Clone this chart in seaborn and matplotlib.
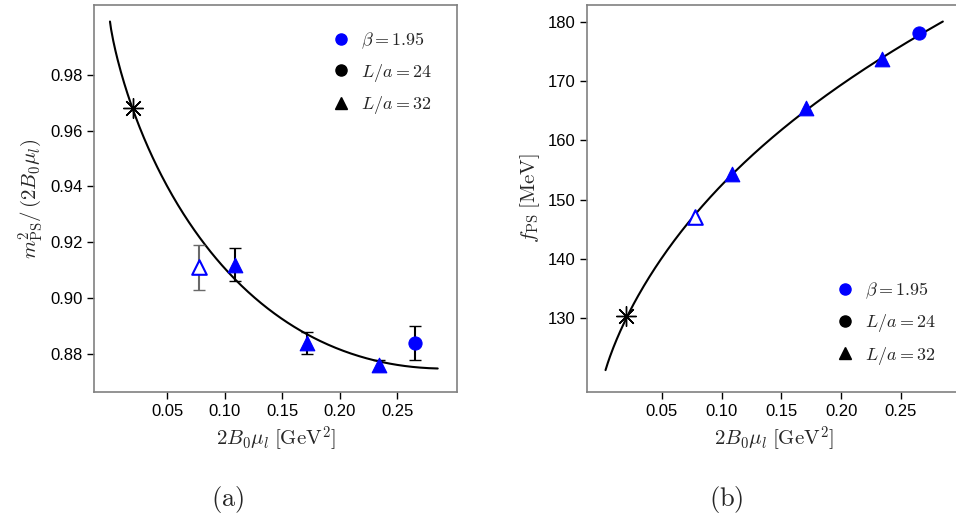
import numpy as np
import matplotlib
matplotlib.use("Agg")
import matplotlib.pyplot as plt
import seaborn as sns
from matplotlib.lines import Line2D

sns.set_style("white")
plt.rcParams['font.family'] = ['Liberation Sans', 'DejaVu Sans']
plt.rcParams['mathtext.fontset'] = 'cm'

# panel (a) data
a_x_l32 = [0.109, 0.171, 0.234]
a_y_l32 = [0.912, 0.884, 0.876]
a_e_l32 = [0.006, 0.004, 0.002]
a_x_open = [0.077]; a_y_open = [0.911]; a_e_open = [0.008]
a_x_l24 = [0.265]; a_y_l24 = [0.884]; a_e_l24 = [0.006]
a_x_phys = [0.020]; a_y_phys = [0.968]
a_curve_x = [0.0, 0.02, 0.05, 0.10, 0.15, 0.20, 0.25, 0.285]
a_curve_y = [0.999, 0.968, 0.939, 0.911, 0.893, 0.881, 0.876, 0.875]

# panel (b) data
b_x_l32 = [0.109, 0.171, 0.234]
b_y_l32 = [154.3, 165.5, 173.7]
b_x_open = [0.078]; b_y_open = [147.0]
b_x_l24 = [0.265]; b_y_l24 = [178.1]
b_x_phys = [0.020]; b_y_phys = [130.4]
b_curve_x = [0.003, 0.02, 0.078, 0.109, 0.171, 0.234, 0.265, 0.285]
b_curve_y = [120.9, 130.4, 147.0, 154.3, 165.5, 173.7, 178.1, 179.9]

fig = plt.figure(figsize=(9.56, 5.23), dpi=100)
axA = fig.add_axes([0.0988, 0.2505, 0.3789, 0.740])
axB = fig.add_axes([0.614, 0.2505, 0.391, 0.740])

def basis(x):
    x = np.asarray(x, float)
    xl = np.where(x > 0, x * np.log(np.maximum(x, 1e-12)), 0.0)
    return np.column_stack([np.ones_like(x), x, x**2, xl])

def smooth(xs, ys):
    c, *_ = np.linalg.lstsq(basis(xs), np.asarray(ys, float), rcond=None)
    xx = np.linspace(min(xs), max(xs), 300)
    return xx, basis(xx) @ c

xx, yy = smooth(a_curve_x, a_curve_y)
sns.lineplot(x=xx, y=yy, ax=axA, color='black', lw=1.5, sort=False)
axA.errorbar(a_x_l32, a_y_l32, yerr=a_e_l32, fmt='none', ecolor='black', capsize=4, lw=1.5, zorder=3)
axA.errorbar(a_x_open, a_y_open, yerr=a_e_open, fmt='none', ecolor='dimgray', capsize=4, lw=1.5, zorder=3)
axA.errorbar(a_x_l24, a_y_l24, yerr=a_e_l24, fmt='none', ecolor='black', capsize=4, lw=1.5, zorder=3)
sns.scatterplot(x=a_x_l32, y=a_y_l32, ax=axA, marker='^', color='blue', s=110, edgecolor='blue', zorder=4)
axA.scatter(a_x_open, a_y_open, marker='^', facecolor='white', edgecolor='blue', s=110, lw=1.5, zorder=4)
sns.scatterplot(x=a_x_l24, y=a_y_l24, ax=axA, marker='o', color='blue', s=90, edgecolor='blue', zorder=4)
axA.scatter(a_x_phys, a_y_phys, marker=(8, 2, 0), color='black', s=200, lw=1.0, zorder=4)
axA.set_xlim(-0.0135, 0.3015)
axA.set_ylim(0.8664, 1.005)
axA.set_yticks([0.88, 0.90, 0.92, 0.94, 0.96, 0.98])
axA.set_ylabel(r'$m_{\rm PS}^2/\,(2B_0\mu_l)$', fontsize=15)

xx, yy = smooth(b_curve_x, b_curve_y)
sns.lineplot(x=xx, y=yy, ax=axB, color='black', lw=1.5, sort=False)
sns.scatterplot(x=b_x_l32, y=b_y_l32, ax=axB, marker='^', color='blue', s=110, edgecolor='blue', zorder=4)
axB.scatter(b_x_open, b_y_open, marker='^', facecolor='white', edgecolor='blue', s=110, lw=1.5, zorder=4)
sns.scatterplot(x=b_x_l24, y=b_y_l24, ax=axB, marker='o', color='blue', s=90, edgecolor='blue', zorder=4)
axB.scatter(b_x_phys, b_y_phys, marker=(8, 2, 0), color='black', s=200, lw=1.0, zorder=4)
axB.set_xlim(-0.0125, 0.3)
axB.set_ylim(117.5, 182.9)
axB.set_yticks([130, 140, 150, 160, 170, 180])
axB.set_ylabel(r'$f_{\rm PS}\;[\mathrm{MeV}]$', fontsize=15)

handles = [Line2D([], [], ls='', marker='o', color='blue', ms=8),
           Line2D([], [], ls='', marker='o', color='black', ms=8),
           Line2D([], [], ls='', marker='^', color='black', ms=9)]
labels = [r'$\beta = 1.95$', r'$L/a = 24$', r'$L/a = 32$']

for ax, loc in ((axA, 'upper right'), (axB, 'lower right')):
    ax.set_xticks([0.05, 0.10, 0.15, 0.20, 0.25])
    ax.set_xticklabels(['0.05', '0.10', '0.15', '0.20', '0.25'])
    ax.set_xlabel(r'$2B_0\mu_l\;[\mathrm{GeV}^2]$', fontsize=15)
    ax.tick_params(axis='both', direction='out', length=5, width=1, labelsize=12, colors='black', bottom=True, left=True)
    for s in ax.spines.values():
        s.set_color('gray'); s.set_linewidth(1.2)
    ax.legend(handles, labels, loc=loc, frameon=False, fontsize=13, handletextpad=0.1,
              labelspacing=0.6, borderaxespad=1.0)

fig.text(0.238, 0.045, r'$\mathrm{(a)}$', ha='center', va='center', fontsize=19)
fig.text(0.76, 0.045, r'$\mathrm{(b)}$', ha='center', va='center', fontsize=19)

fig.savefig('out.png', dpi=100)
